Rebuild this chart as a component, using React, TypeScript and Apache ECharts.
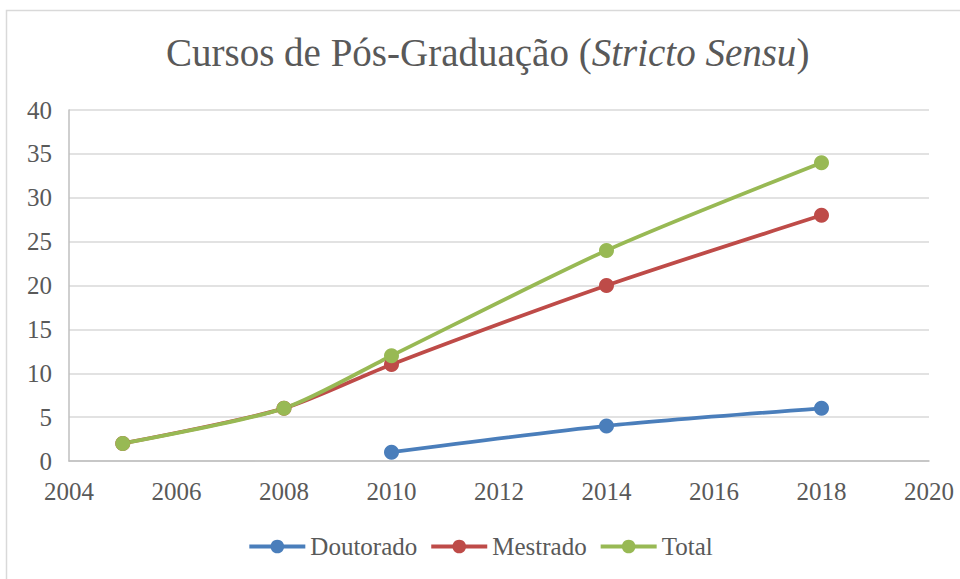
import React, { useEffect, useRef } from "react";
import * as echarts from "echarts";

const years = [2005, 2008, 2010, 2014, 2018];
const doutoradoYears = [2010, 2014, 2018];
const doutorado = [1, 4, 6];
const mestrado = [2, 6, 11, 20, 28];
const total = [2, 6, 12, 24, 34];
const seriesNames = ["Doutorado", "Mestrado", "Total"];
const colors = ["#4a7ebb", "#be4b48", "#98b954"];
const titleText = "Cursos de Pós-Graduação (";
const titleItalic = "Stricto Sensu";

const FONT = "Liberation Serif";

export default function App() {
  const ref = useRef<HTMLDivElement>(null);
  useEffect(() => {
    const chart = echarts.init(ref.current!, null, { renderer: "svg" });
    const pairs = (xs: number[], ys: number[]) => xs.map((x, i) => [x, ys[i]]);
    const mk = (name: string, data: number[][], color: string) => ({
      name,
      type: "line",
      data,
      smooth: 0.25,
      symbol: "circle",
      symbolSize: 15,
      itemStyle: { color },
      lineStyle: { color, width: 3.8 },
    });
    chart.setOption({
      animation: false,
      backgroundColor: "#ffffff",
      textStyle: { fontFamily: FONT },
      title: {
        text: "{n|" + titleText + "}{i|" + titleItalic + "}{n|)}",
        left: 161,
        top: 28,
        textStyle: {
          fontFamily: FONT,
          fontWeight: "normal",
          rich: {
            n: { fontFamily: FONT, fontSize: 39, color: "#595959", fontWeight: "normal" },
            i: { fontFamily: FONT, fontSize: 39, color: "#595959", fontStyle: "italic", fontWeight: "normal" },
          },
        },
      },
      graphic: [
        {
          type: "rect",
          shape: { x: 6.5, y: 10.5, width: 1000, height: 700 },
          style: { fill: "none", stroke: "#d9d9d9", lineWidth: 1.5 },
          z: -1,
        },
      ],
      legend: {
        bottom: 15,
        left: "center",
        itemWidth: 56,
        itemHeight: 17,
        itemGap: 12,
        lineStyle: { width: 4 },
        textStyle: { fontFamily: FONT, fontSize: 25, color: "#595959" },
        data: seriesNames,
      },
      grid: { left: 69, right: 31, top: 110, bottom: 118 },
      xAxis: {
        type: "value",
        min: 2004,
        max: 2020,
        interval: 2,
        axisLine: { show: true, lineStyle: { color: "#bfbfbf", width: 1.5 } },
        axisTick: { show: false },
        splitLine: { show: false },
        axisLabel: {
          fontFamily: FONT,
          fontSize: 25,
          color: "#595959",
          formatter: (v: number) => String(v),
          margin: 18,
        },
      },
      yAxis: {
        type: "value",
        min: 0,
        max: 40,
        interval: 5,
        axisLine: { show: true, lineStyle: { color: "#bfbfbf", width: 1.5 } },
        axisTick: { show: false },
        splitLine: { lineStyle: { color: "#d9d9d9", width: 1.5 } },
        axisLabel: {
          fontFamily: FONT,
          fontSize: 25,
          color: "#595959",
          margin: 17,
        },
      },
      series: [
        mk(seriesNames[0], pairs(doutoradoYears, doutorado), colors[0]),
        mk(seriesNames[1], pairs(years, mestrado), colors[1]),
        mk(seriesNames[2], pairs(years, total), colors[2]),
      ],
    });
    return () => chart.dispose();
  }, []);
  return (
    <div
      ref={ref}
      style={{ position: "absolute", left: 0, top: 0, width: 960, height: 579 }}
    />
  );
}
